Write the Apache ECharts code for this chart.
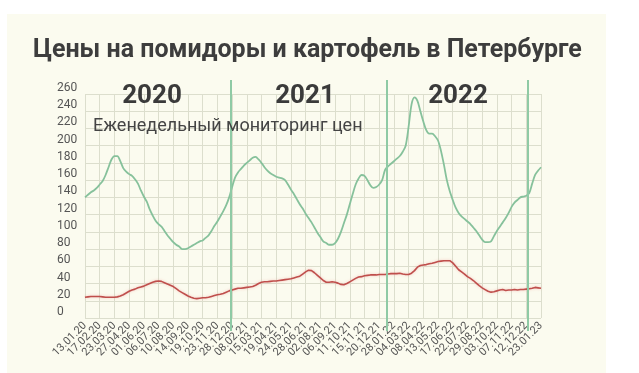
<!DOCTYPE html>
<html><head><meta charset="utf-8">
<script src="https://cdn.jsdelivr.net/npm/echarts@6/dist/echarts.min.js"></script>
<style>html,body{margin:0;padding:0;background:#fff}#c{width:639px;height:373px}</style>
</head><body><div id="c"></div>
<script>
const tickLabels = ['13.01.20','17.02.20','23.03.20','27.04.20','01.06.20','06.07.20','10.08.20','14.09.20','19.10.20','23.11.20','28.12.20','08.02.21','15.03.21','19.04.21','24.05.21','28.06.21','02.08.21','06.09.21','11.10.21','15.11.21','20.12.21','28.01.22','04.03.22','08.04.22','13.05.22','17.06.22','22.07.22','29.08.22','03.10.22','07.11.22','12.12.22','23.01.23'];
const yTicks = [0,20,40,60,80,100,120,140,160,180,200,220,240,260];
const tomatoes = [140,143,146,148,151,155,159,166,175,184,188,188,182,174,170,167,165,161,156,148,
141,135,126,119,113,109,106,101,96,92,88,85,83,80,80,81,83,85,87,89,
90,93,96,101,107,112,118,124,131,140,152,163,169,173,177,180,183,186,187,184,
180,175,171,168,166,164,163,162,160,155,149,144,138,132,127,121,116,111,105,99,
94,89,87,85,85,87,92,100,110,120,132,144,155,162,166,165,160,154,151,152,
155,160,172,176,179,182,185,188,193,200,222,248,256,252,240,228,218,214,214,211,
206,194,178,160,147,137,128,122,118,115,112,109,105,101,96,91,88,88,89,95,
101,106,111,116,122,129,134,137,140,141,142,145,156,166,171,175];
const potatoes = [24,24.5,25,25,25,25,24.5,24,24,24,24,24.5,25.5,27,29,31,32.5,33.5,35,36,
37,38.5,40,41.5,42.5,43,42.5,41,39.5,38,36.5,34,31.5,29.5,27.5,25.5,24,23,22.5,23,
23.5,23.5,24,25,26,27,27.5,28.5,30,31.5,32.5,33.5,34.5,34.5,35,35.5,36,36.5,38,40,
41.5,42,42,42.5,43,43,43.5,44,44.5,45,45.5,46.5,47.5,48.5,51,53.5,55.5,55,52.5,49.5,
46.5,43.5,41.5,41.5,42,41.5,40.5,39,38.5,40,42,44,46,47.5,48,49,49.5,50,50,50,
50.5,50.5,50.5,51,51.5,51.5,51.5,52,51,50.5,50.5,52,55,59,61,61.5,62,63,63.5,64.5,
65.5,66,66.5,66.5,66.5,64,60,56,53.5,51,48,46,43.5,40.5,37.5,35,33,31,30,30.5,
31.5,32.5,33,32,32.5,32.5,33,32.5,33,33,33.5,34,34.5,35.5,35,34.5];
const yearLabels = ['2020','2021','2022'];
const yearBreaks = [49.6, 102.7, 150.6];
const titleText = 'Цены на помидоры и картофель в Петербурге';
const subtitleText = 'Еженедельный мониторинг цен';

const categories = tomatoes.map((_, i) => (i % 5 === 0 ? (tickLabels[i / 5] || '') : ''));
const lastIdx = categories.length - 1;

const chart = echarts.init(document.getElementById('c'), null, {renderer: 'canvas'});
const gridColor = '#dcdecd';
const font = 'Roboto, "Noto Sans", sans-serif';
const xLabelStyle = {rotate: 45, fontSize: 11, color: '#555', margin: 6, fontFamily: font};
chart.setOption({
  backgroundColor: '#ffffff',
  animation: false,
  textStyle: {fontFamily: font},
  graphic: [
    {type: 'rect', z: -10, shape: {x: 7, y: 14, width: 599, height: 360}, style: {fill: '#fbfbef'}},
    {type: 'text', z: 100, x: 33, y: 38, style: {text: titleText, font: 'bold 25px ' + font, fill: '#3d3d3d'}},
    {type: 'text', z: 100, x: 152, y: 83, style: {text: yearLabels[0], font: 'bold 26px ' + font, fill: '#3a3a3a', align: 'center'}},
    {type: 'text', z: 100, x: 305, y: 83, style: {text: yearLabels[1], font: 'bold 26px ' + font, fill: '#3a3a3a', align: 'center'}},
    {type: 'text', z: 100, x: 458, y: 83, style: {text: yearLabels[2], font: 'bold 26px ' + font, fill: '#3a3a3a', align: 'center'}},
    {type: 'text', z: 100, x: 93, y: 117, style: {text: subtitleText, font: '18px ' + font, fill: '#444444'}}
  ],
  grid: [
    {left: 85, right: 98, top: 94, bottom: 55, containLabel: false},
    {left: 85, right: 98, top: 80, bottom: 42, containLabel: false}
  ],
  xAxis: [
    {type: 'category', gridIndex: 0, data: categories, boundaryGap: false,
     axisLine: {show: false}, axisTick: {show: false},
     axisLabel: Object.assign({interval: 4, showMinLabel: false, showMaxLabel: false}, xLabelStyle),
     splitLine: {show: true, interval: 4, lineStyle: {color: gridColor, width: 1}}},
    {type: 'value', gridIndex: 1, min: 0, max: lastIdx, show: false},
    {type: 'category', gridIndex: 0, position: 'bottom', data: categories, boundaryGap: false,
     axisLine: {show: false}, axisTick: {show: false}, splitLine: {show: false},
     axisLabel: Object.assign({interval: (i) => i === 0 || i === lastIdx, showMinLabel: true, showMaxLabel: true}, xLabelStyle)}
  ],
  yAxis: [
    {type: 'value', gridIndex: 0, min: 0, max: 260, interval: 20,
     axisLine: {show: false}, axisTick: {show: false},
     axisLabel: {fontSize: 12, color: '#555', align: 'left', margin: 28, verticalAlign: 'bottom', fontFamily: font},
     splitLine: {lineStyle: {color: gridColor, width: 1}}},
    {type: 'value', gridIndex: 1, min: 0, max: 1, show: false}
  ],
  series: [
    {type: 'line', name: 'Помидоры', xAxisIndex: 0, yAxisIndex: 0, data: tomatoes, smooth: 0.3,
     showSymbol: false, lineStyle: {color: '#86c19b', width: 1.8}},
    {type: 'line', name: 'Картофель', xAxisIndex: 0, yAxisIndex: 0, data: potatoes,
     showSymbol: false, lineStyle: {color: '#bf4f4c', width: 1.6, shadowColor: 'rgba(235,120,120,0.4)', shadowBlur: 3}},
    {type: 'line', xAxisIndex: 1, yAxisIndex: 1, data: [], silent: true,
     markLine: {silent: true, symbol: ['none', 'none'], label: {show: false},
       lineStyle: {color: '#8fcaa5', width: 2, type: 'solid'},
       data: yearBreaks.map(v => ({xAxis: v}))}}
  ]
});
</script></body></html>
